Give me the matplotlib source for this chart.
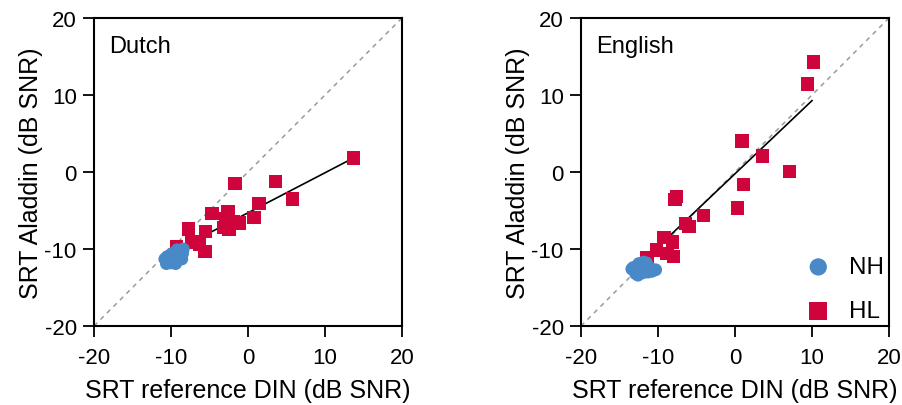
import matplotlib
matplotlib.use("Agg")
import matplotlib.pyplot as plt
import numpy as np

plt.rcParams['font.family'] = ['Liberation Sans', 'DejaVu Sans']
plt.rcParams['axes.unicode_minus'] = False

# Dutch panel
dutch_hl_x = [13.7, -1.7, 3.6, 5.8, 1.4, 0.8, -4.7, -2.6, -2.9, -3.2, -2.5, -1.2, -7.7, -5.5, -7.3, -6.3, -5.6, -9.3, -1.9]
dutch_hl_y = [1.85, -1.5, -1.25, -3.5, -4.1, -5.9, -5.4, -5.1, -6.1, -7.2, -7.4, -6.6, -7.4, -7.7, -9.1, -9.4, -10.3, -9.7, -6.5]
dutch_nh_x = [-10.8, -10.5, -10.2, -10.0, -9.8, -9.6, -9.5, -9.3, -9.1, -9.0, -8.8, -8.7, -8.5, -8.6, -9.9, -10.4, -9.2, -8.4, -10.6, -9.4]
dutch_nh_y = [-11.3, -11.0, -11.5, -11.8, -11.2, -10.8, -11.6, -11.0, -11.4, -10.5, -11.0, -10.2, -10.6, -11.3, -10.6, -11.7, -10.1, -10.0, -11.9, -11.9]
dutch_fit = (0.52, -5.3)          # slope, intercept
dutch_fit_range = (-11.0, 13.7)

# English panel
eng_hl_x = [10.2, 9.4, 0.9, 3.6, 7.1, 1.1, 0.3, -4.1, -7.6, -7.8, -6.4, -6.0, -9.25, -8.1, -10.2, -8.8, -8.0, -11.4]
eng_hl_y = [14.3, 11.4, 4.05, 2.07, 0.08, -1.65, -4.7, -5.65, -3.2, -3.6, -6.7, -7.1, -8.5, -9.1, -10.1, -10.6, -11.0, -11.2]
eng_nh_x = [-13.4, -13.0, -12.8, -12.6, -12.4, -12.2, -12.0, -11.8, -11.6, -11.5, -11.3, -11.0, -10.8, -10.3, -12.9, -12.5, -11.9, -13.2]
eng_nh_y = [-12.6, -12.9, -12.3, -13.4, -12.0, -12.7, -13.1, -12.2, -12.6, -11.8, -13.0, -12.5, -12.9, -12.7, -13.2, -11.9, -11.7, -12.4]
eng_fit = (0.95, -0.23)
eng_fit_range = (-10.7, 10.0)

ticks = [-20, -10, 0, 10, 20]
RED = '#D0043C'
BLUE = '#4A89C8'

fig = plt.figure(figsize=(9.02, 4.06), dpi=100)
W, H = 902, 406
ax1 = fig.add_axes([94 / W, (406 - 327) / H, 308 / W, 308 / H])
ax2 = fig.add_axes([581 / W, (406 - 327) / H, 308 / W, 308 / H])

panels = [
    (ax1, 'Dutch', dutch_hl_x, dutch_hl_y, dutch_nh_x, dutch_nh_y, dutch_fit, dutch_fit_range),
    (ax2, 'English', eng_hl_x, eng_hl_y, eng_nh_x, eng_nh_y, eng_fit, eng_fit_range),
]

for ax, title, hx, hy, nx, ny, fit, frange in panels:
    ax.plot([-20, 20], [-20, 20], ls=(0, (3, 3)), color='#9a9a9a', lw=1.1, zorder=1)
    fx = np.array(frange)
    ax.plot(fx, fit[0] * fx + fit[1], color='black', lw=1.2, zorder=2)
    ax.scatter(hx, hy, marker='s', s=95, color=RED, edgecolors='none', zorder=3, label='HL')
    ax.scatter(nx, ny, marker='o', s=85, color=BLUE, edgecolors='none', zorder=4, label='NH')
    ax.set_xlim(-20, 20)
    ax.set_ylim(-20, 20)
    ax.set_xticks(ticks)
    ax.set_yticks(ticks)
    ax.tick_params(direction='out', length=8, width=1.3, labelsize=16)
    ax.tick_params(axis='x', pad=7)
    ax.tick_params(axis='y', pad=4.5)
    for sp in ax.spines.values():
        sp.set_linewidth(1.5)
    ax.set_xlabel('SRT reference DIN (dB SNR)', fontsize=18, labelpad=7)
    ax.set_ylabel('SRT Aladdin (dB SNR)', fontsize=18, labelpad=1)
    ax.text(0.05, 0.91, title, transform=ax.transAxes, fontsize=17, va='center', ha='left')

h, l = ax2.get_legend_handles_labels()
ax2.legend([h[1], h[0]], ['NH', 'HL'], loc='lower right', bbox_to_anchor=(1.03, -0.035),
           frameon=False, fontsize=17.5, handletextpad=0.25, labelspacing=0.9,
           markerscale=1.35, borderaxespad=0.2)

fig.savefig('out.png', dpi=100)
